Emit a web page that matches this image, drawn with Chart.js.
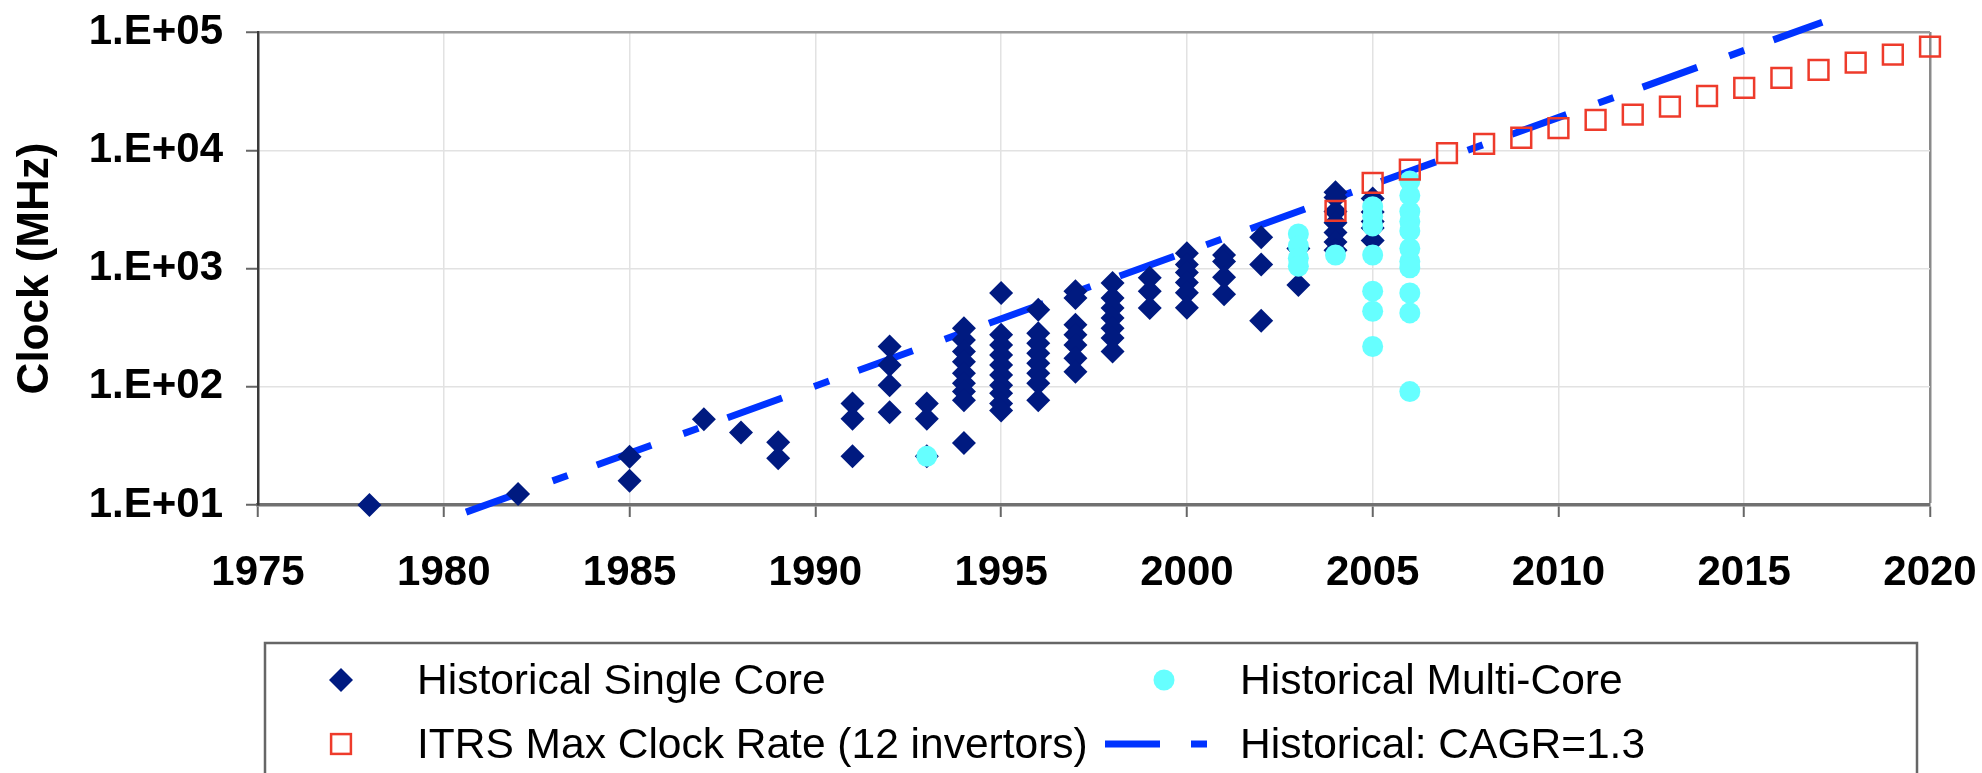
<!DOCTYPE html>
<html>
<head>
<meta charset="utf-8">
<script src="https://cdn.jsdelivr.net/npm/chart.js@4.4.1/dist/chart.umd.min.js"></script>
<style>
  html, body { margin: 0; padding: 0; background: #fff; }
  #wrap { width: 1982px; height: 773px; }
</style>
</head>
<body>
<div id="wrap"><canvas id="clockChart" width="1982" height="773"></canvas></div>
<script>
// historical single core parts, grouped by year (MHz)
var singleYears = [1978, 1982, 1985, 1987, 1988, 1989, 1991, 1992, 1993, 1994, 1995,
                   1996, 1997, 1998, 1999, 2000, 2001, 2002, 2003, 2004, 2005];
var singleClock = [
    [10],
    [12.4],
    [25.6, 16],
    [53],
    [41],
    [34, 24.8],
    [72, 53.6, 25.8],
    [219, 153, 103, 61],
    [72, 53.6, 25.8],
    [313, 249, 199, 163, 130, 107, 91, 77, 33.5],
    [621, 275, 226, 186, 153, 126, 103, 88, 72, 63],
    [448, 284, 233, 192, 158, 130, 107, 77],
    [643, 564, 334, 275, 226, 174, 134],
    [755, 564, 463, 381, 313, 258, 199],
    [834, 643, 463],
    [1343, 1079, 925, 760, 625, 466],
    [1300, 1148, 843, 607],
    [1841, 1079, 361],
    [1476, 724],
    [4420, 3990, 3030, 2440, 2020, 1676, 1430],
    [3910, 3000, 2500, 2200, 1727]
];

// historical multi-core parts
var multiYears = [1993, 2003, 2004, 2005, 2006];
var multiClock = [
    [25.8],
    [1960, 1550, 1222, 1045],
    [1300],
    [3330, 2760, 2290, 1300, 643, 435, 219],
    [5500, 4150, 3030, 2500, 2080, 1476, 1148, 1014, 621, 421, 91]
];

// ITRS max clock rate (12 invertors)
var itrsYears = [2004, 2005, 2006, 2007, 2008, 2009, 2010, 2011, 2012,
                 2013, 2014, 2015, 2016, 2017, 2018, 2019, 2020];
var itrsClock = [3070, 5300, 6850, 9460, 11330, 12760, 15380, 18070, 20040,
                 23370, 28750, 33720, 41000, 47860, 54980, 64400, 75100];

// historical trend line, CAGR = 1.3 (end points)
var trendYears = [1980.6, 2017.1];
var trendClock = [8.7, 121000];

var xTicks = [1975, 1980, 1985, 1990, 1995, 2000, 2005, 2010, 2015, 2020];
var yTicks = [10, 100, 1000, 10000, 100000];

var seriesNames = ["Historical Single Core", "Historical Multi-Core",
                   "ITRS Max Clock Rate (12 invertors)", "Historical: CAGR=1.3"];

function toPoints(years, clocks) {
    var pts = [];
    for (var i = 0; i < years.length; i++) {
        var vals = Array.isArray(clocks[i]) ? clocks[i] : [clocks[i]];
        for (var j = 0; j < vals.length; j++) {
            pts.push({x: years[i], y: vals[j]});
        }
    }
    return pts;
}

var NAVY = '#001a80';
var CYAN = '#66ffff';
var RED = '#ee3b2b';
var BLUE = '#0033ff';
var FONT = "'Liberation Sans', Arial, Helvetica, sans-serif";

// legend drawn in a box under the axis, two columns like the original
var boxLegend = {
    id: 'boxLegend',
    afterDraw: function(chart) {
        var ctx = chart.ctx;
        var cols = [341, 1164];
        var rows = [680, 744];
        var textX = [417, 1240];
        ctx.save();
        ctx.strokeStyle = '#666';
        ctx.lineWidth = 2.5;
        ctx.strokeRect(265, 643, 1917 - 265, 200);

        var ds = chart.data.datasets;
        // order in the box: single, multi / itrs, trend
        var slots = [[0, 0, 0], [1, 1, 0], [2, 0, 1], [3, 1, 1]];
        slots.forEach(function(s) {
            var d = ds[s[0]];
            var x = cols[s[1]], y = rows[s[2]];
            ctx.beginPath();
            if (d.pointStyle === 'rectRot') {
                var r = d.pointRadius;
                ctx.moveTo(x - r, y);
                ctx.lineTo(x, y - r);
                ctx.lineTo(x + r, y);
                ctx.lineTo(x, y + r);
                ctx.closePath();
                ctx.fillStyle = d.backgroundColor;
                ctx.fill();
            } else if (d.pointStyle === 'circle') {
                ctx.arc(x, y, d.pointRadius, 0, Math.PI * 2);
                ctx.fillStyle = d.backgroundColor;
                ctx.fill();
            } else if (d.pointStyle === 'rect') {
                var h = Math.SQRT1_2 * d.pointRadius;
                ctx.lineWidth = d.borderWidth;
                ctx.strokeStyle = d.borderColor;
                ctx.strokeRect(x - h, y - h, 2 * h, 2 * h);
            } else {
                ctx.lineWidth = d.borderWidth;
                ctx.strokeStyle = d.borderColor;
                ctx.moveTo(x - 59, y);
                ctx.lineTo(x - 4, y);
                ctx.moveTo(x + 27, y);
                ctx.lineTo(x + 43, y);
                ctx.stroke();
            }
            ctx.fillStyle = '#000';
            ctx.font = '42.5px ' + FONT;
            ctx.textBaseline = 'middle';
            ctx.textAlign = 'left';
            ctx.fillText(d.label, textX[s[1]], y + 2);
        });
        ctx.restore();
    }
};

var ctx = document.getElementById('clockChart').getContext('2d');
var myChart = new Chart(ctx, {
    type: 'scatter',
    data: {
        datasets: [{
            label: seriesNames[0],
            data: toPoints(singleYears, singleClock),
            pointStyle: 'rectRot',
            pointRadius: 12,
            backgroundColor: NAVY,
            borderColor: NAVY,
            borderWidth: 0,
            order: 3,
            clip: false
        }, {
            label: seriesNames[1],
            data: toPoints(multiYears, multiClock),
            pointStyle: 'circle',
            pointRadius: 10.5,
            backgroundColor: CYAN,
            borderColor: CYAN,
            borderWidth: 0,
            order: 2,
            clip: false
        }, {
            label: seriesNames[2],
            data: toPoints(itrsYears, itrsClock),
            pointStyle: 'rect',
            pointRadius: 14,
            backgroundColor: 'rgba(0,0,0,0)',
            borderColor: RED,
            borderWidth: 2.5,
            order: 1,
            clip: false
        }, {
            label: seriesNames[3],
            type: 'line',
            data: toPoints(trendYears, trendClock),
            showLine: true,
            borderColor: BLUE,
            borderWidth: 7,
            borderDash: [58, 34, 16, 31],
            pointRadius: 0,
            fill: false,
            order: 4,
            clip: false
        }]
    },
    options: {
        responsive: false,
        animation: false,
        layout: { padding: { top: 32, right: 52, bottom: 168, left: 0 } },
        plugins: {
            legend: { display: false },
            tooltip: { enabled: false }
        },
        scales: {
            x: {
                type: 'linear',
                min: 1975,
                max: 2020,
                afterBuildTicks: function(scale) {
                    scale.ticks = xTicks.map(function(v) { return {value: v}; });
                },
                afterFit: function(scale) {
                    scale.height = 100;
                    // the layout padding already leaves room for the end labels
                    scale.paddingLeft = 0;
                    scale.paddingRight = 0;
                },
                ticks: {
                    color: '#000',
                    padding: 31,
                    maxRotation: 0,
                    autoSkip: false,
                    font: { family: FONT, size: 42, weight: 'bold' },
                    callback: function(v) { return String(v); }
                },
                grid: {
                    color: function(c) {
                        if (c.tick && c.tick.value === 1975) return 'rgba(0,0,0,0)';
                        if (c.tick && c.tick.value === 2020) return '#8a8a8a';
                        return '#e2e2e2';
                    },
                    lineWidth: function(c) {
                        return (c.tick && c.tick.value === 2020) ? 2.5 : 1.5;
                    },
                    tickColor: '#666',
                    tickWidth: 2,
                    tickLength: 12
                },
                border: { color: '#707070', width: 3.5 }
            },
            y: {
                type: 'logarithmic',
                min: 10,
                max: 100000,
                afterBuildTicks: function(scale) {
                    scale.ticks = yTicks.map(function(v) { return {value: v, major: true}; });
                },
                afterFit: function(scale) {
                    scale.width = 258;
                    scale.paddingTop = 0;
                    scale.paddingBottom = 0;
                },
                ticks: {
                    color: '#000',
                    padding: 23,
                    autoSkip: false,
                    font: { family: FONT, size: 42, weight: 'bold' },
                    callback: function(v) {
                        var e = Math.round(Math.log10(v));
                        return '1.E+' + (e < 10 ? '0' : '') + e;
                    }
                },
                grid: {
                    color: function(c) {
                        if (c.tick && c.tick.value === 10) return 'rgba(0,0,0,0)';
                        if (c.tick && c.tick.value === 100000) return '#9a9a9a';
                        return '#e2e2e2';
                    },
                    lineWidth: function(c) {
                        return (c.tick && c.tick.value === 100000) ? 2.5 : 1.5;
                    },
                    tickColor: '#666',
                    tickWidth: 2,
                    tickLength: 12
                },
                border: { color: '#3a3a3a', width: 2.5 },
                title: {
                    display: true,
                    text: 'Clock (MHz)',
                    color: '#000',
                    padding: { top: 9, bottom: 0 },
                    font: { family: FONT, size: 44, weight: 'bold' }
                }
            }
        }
    },
    plugins: [boxLegend]
});
</script>
</body>
</html>
